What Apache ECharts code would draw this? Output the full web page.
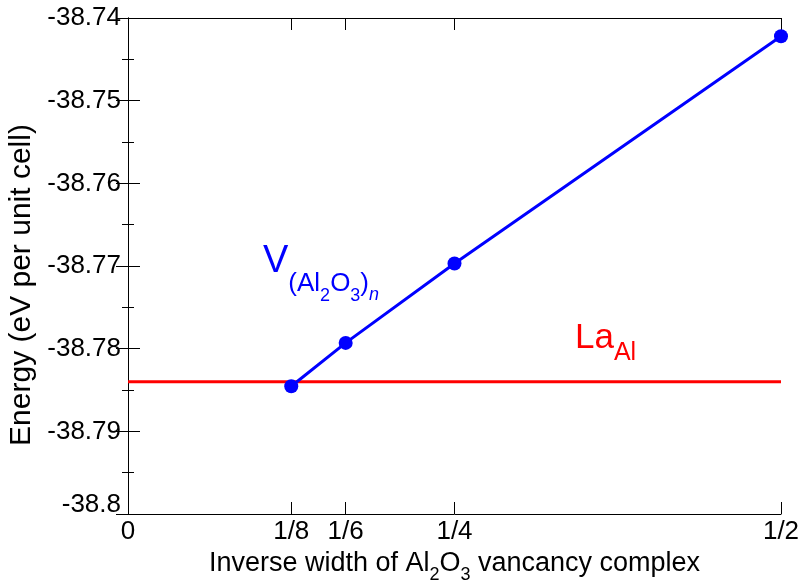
<!DOCTYPE html>
<html>
<head>
<meta charset="utf-8">
<script src="https://cdn.jsdelivr.net/npm/echarts@6/dist/echarts.min.js"></script>
<style>
  html, body { margin: 0; padding: 0; background: #fff; }
  #chart { width: 804px; height: 580px; }
</style>
</head>
<body>
<div id="chart"></div>
<script>
// inverse width of the vacancy complex and energies
const inverseWidths = [1 / 8, 1 / 6, 1 / 4, 1 / 2];
const vacancyEnergy = [-38.78455, -38.7793, -38.7697, -38.7422];
const laAlEnergy = [-38.7840, -38.7840];
const laAlRange = [0, 0.5];
const xTickValues = [0, 1 / 8, 1 / 6, 1 / 4, 1 / 2];
const xTickLabels = ['0', '1/8', '1/6', '1/4', '1/2'];

const FONT = 'Liberation Sans';

const chart = echarts.init(document.getElementById('chart'));

const labelFor = v => {
  const i = xTickValues.findIndex(t => Math.abs(t - v) < 1e-9);
  return i >= 0 ? xTickLabels[i] : '';
};

const axisLine = { show: true, lineStyle: { color: '#000', width: 1 } };
const tickStyle = { color: '#000', width: 1 };

// rich text piece helper, verticalAlign top + padding to place sub/superscripts
const piece = (size, dy, extra) => Object.assign({
  fontFamily: FONT, fontSize: size, lineHeight: size,
  verticalAlign: 'top', padding: [dy, 0, 0, 0]
}, extra || {});

const option = {
  animation: false,
  grid: { left: 128, right: 23, top: 18, bottom: 66, containLabel: false, outerBoundsMode: 'none' },
  xAxis: [{
    type: 'value',
    min: 0,
    max: 0.5,
    axisLine: axisLine,
    splitLine: { show: false },
    axisTick: { show: true, inside: true, length: 12, customValues: xTickValues, lineStyle: tickStyle },
    axisLabel: {
      customValues: xTickValues,
      formatter: labelFor,
      fontFamily: FONT, fontSize: 26, color: '#000', margin: 5
    },
    name: '{a|Inverse width of Al}{s|2}{a|O}{s|3}{a| vancancy complex}',
    nameLocation: 'middle',
    nameGap: 31,
    nameTextStyle: {
      color: '#000',
      rich: { a: piece(27, 0, { color: '#000' }), s: piece(18, 16, { color: '#000' }) }
    }
  }, {
    type: 'value',
    position: 'top',
    min: 0,
    max: 0.5,
    axisLine: axisLine,
    splitLine: { show: false },
    axisTick: { show: true, inside: true, length: 12, customValues: xTickValues, lineStyle: tickStyle },
    axisLabel: { show: false }
  }],
  yAxis: [{
    type: 'value',
    min: -38.8,
    max: -38.74,
    interval: 0.01,
    axisLine: axisLine,
    splitLine: { show: false },
    axisTick: { show: true, inside: true, length: 12, lineStyle: tickStyle },
    minorTick: { show: true, splitNumber: 2, length: 6, lineStyle: tickStyle },
    axisLabel: {
      fontFamily: FONT, fontSize: 26, color: '#000', margin: 7,
      formatter: v => {
        const s = String(+v.toFixed(2));
        return v <= -38.8 + 1e-9 ? '{up|' + s + '}' : s;
      },
      rich: { up: { fontFamily: FONT, fontSize: 26, color: '#000', padding: [0, 0, 18, 0] } }
    },
    name: 'Energy (eV per unit cell)',
    nameLocation: 'middle',
    nameGap: 87,
    nameTextStyle: { fontFamily: FONT, fontSize: 30, color: '#000', padding: [0, 38, 0, 0] }
  }, {
    type: 'value',
    position: 'right',
    min: -38.8,
    max: -38.74,
    interval: 0.01,
    axisLine: axisLine,
    splitLine: { show: false },
    axisTick: { show: true, inside: true, length: 12, lineStyle: tickStyle },
    minorTick: { show: true, splitNumber: 2, length: 6, lineStyle: tickStyle },
    axisLabel: { show: false }
  }],
  series: [{
    name: 'La_Al',
    type: 'line',
    data: laAlRange.map((x, i) => [x, laAlEnergy[i]]),
    symbol: 'none',
    lineStyle: { color: '#ff0000', width: 3 },
    z: 2
  }, {
    name: 'V',
    type: 'line',
    data: inverseWidths.map((x, i) => [x, vacancyEnergy[i]]),
    symbol: 'circle',
    symbolSize: 14,
    itemStyle: { color: '#0000ff' },
    lineStyle: { color: '#0000ff', width: 3 },
    z: 3
  }],
  graphic: [{
    type: 'text',
    left: 263,
    top: 243,
    style: {
      text: '{v|V}{s|(Al}{ss|2}{s|O}{ss|3}{s|)}{n|n}',
      fill: '#0000ff',
      rich: {
        v: piece(38, 0, { fill: '#0000ff' }),
        s: piece(26, 28, { fill: '#0000ff' }),
        ss: piece(18, 44, { fill: '#0000ff' }),
        n: piece(18, 43, { fill: '#0000ff', fontStyle: 'italic' })
      }
    }
  }, {
    type: 'text',
    left: 575,
    top: 321,
    style: {
      text: '{l|La}{s|Al}',
      fill: '#ff0000',
      rich: {
        l: piece(35, 0, { fill: '#ff0000' }),
        s: piece(25, 20, { fill: '#ff0000' })
      }
    }
  }]
};

chart.setOption(option);
</script>
</body>
</html>
